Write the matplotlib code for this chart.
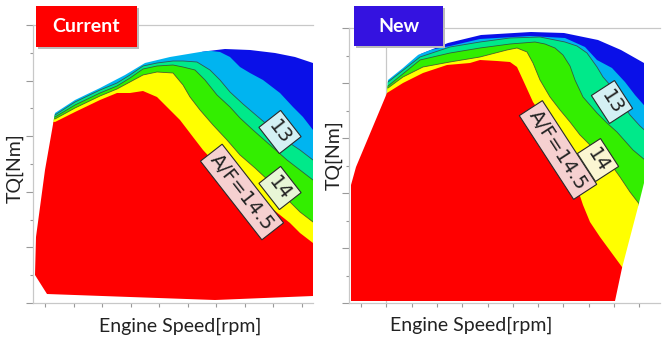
import matplotlib

matplotlib.use("Agg")
import matplotlib.pyplot as plt
from matplotlib.patches import Polygon, Rectangle
from matplotlib.ticker import MultipleLocator
import numpy as np

# ---------------- Current map (speed in rpm, torque in Nm) ----------------
cur_env_speed = [1100, 1500, 2000, 2500, 2900, 3400, 4000, 4500, 5000, 5500, 5900, 6260,
                 6260, 4300, 2600, 940, 700, 720, 900]
cur_env_tq = [190, 203, 215, 228, 240, 246, 251, 254, 253, 250, 246, 240,
              7, 3, 6, 9, 28, 66, 133]

cur_blue_speed = [600, 3900, 4060, 4400, 4600, 4800, 5000, 5260, 5600, 5860, 6060, 6260, 6400]
cur_blue_tq = [262, 262, 253, 251, 246, 236, 230, 223, 210, 196, 186, 173, 168]

cur_13_speed = [600, 1100, 1500, 2000, 2340, 2600, 2860, 3140, 3460, 3660, 3940, 4200, 4400,
                4600, 4860, 5140, 5400, 5700, 6000, 6260, 6400]
cur_13_tq = [192, 188, 201, 213, 220, 228, 237, 240, 242, 242, 241, 233, 223,
             211, 199, 187, 176, 163, 153, 143, 139]

cur_135_speed = [600, 1100, 1500, 2000, 2340, 2600, 2860, 3140, 3460, 3660, 3900, 4100, 4340,
                 4600, 4800, 5060, 5400, 5740, 6000, 6260, 6400]
cur_135_tq = [190, 186, 198, 210, 217, 225, 234, 237, 238, 236, 233, 223, 208,
              196, 185, 173, 158, 143, 133, 123, 119]

cur_14_speed = [600, 1100, 1500, 2000, 2340, 2600, 2860, 3140, 3460, 3660, 3800, 4000, 4260,
                4540, 4800, 5100, 5400, 5700, 6000, 6260, 6400]
cur_14_tq = [188, 184, 195, 207, 214, 221, 228, 231, 230, 218, 206, 193, 178,
             163, 148, 135, 121, 106, 91, 81, 77]

cur_145_speed = [600, 1100, 1500, 2000, 2340, 2600, 2860, 3140, 3340, 3600, 3860, 4060, 4300,
                 4600, 5000, 5400, 5800, 6000, 6260, 6400]
cur_145_tq = [185, 181, 191, 203, 210, 210, 212, 206, 196, 183, 166, 153, 140,
              125, 110, 96, 80, 70, 60, 53]

# ---------------- New map ----------------
new_env_speed = [1440, 1740, 2040, 2640, 3300, 4300, 4960, 5640, 6100, 6560,
                 6560, 6440, 6120, 5980, 700, 700, 800, 1420]
new_env_tq = [223, 235, 248, 260, 268, 271, 270, 263, 253, 240,
              120, 96, 35, 2, 2, 118, 136, 210]

new_blue_speed = [580, 2080, 2680, 3280, 4280, 4980, 5380, 5620, 5920, 6180, 6380, 6680]
new_blue_tq = [263, 251, 257, 264, 267, 265, 256, 243, 235, 221, 208, 191]

new_13_speed = [580, 1440, 2080, 2680, 3280, 3880, 4480, 4980, 5220, 5420, 5620, 5740, 5880,
                6080, 6280, 6480, 6680]
new_13_tq = [224, 221, 246, 256, 261, 265, 266, 261, 257, 250, 236, 226, 218,
             203, 188, 177, 168]

new_135_speed = [580, 1440, 2080, 2680, 3280, 3880, 4380, 4580, 4780, 4940, 5080, 5180, 5340,
                 5620, 5820, 6020, 6340, 6580, 6780]
new_135_tq = [222, 217, 243, 250, 255, 259, 261, 259, 255, 248, 237, 223, 206,
              190, 180, 171, 153, 143, 137]

new_14_speed = [580, 1440, 1740, 2140, 2680, 3280, 3820, 4020, 4220, 4340, 4480, 4680, 4880,
                5080, 5280, 5580, 5880, 6080, 6280, 6480, 6680]
new_14_tq = [220, 215, 226, 236, 241, 246, 253, 255, 251, 240, 223, 206, 193,
             181, 168, 153, 140, 126, 111, 98, 88]

new_145_speed = [580, 1420, 1740, 2140, 2620, 3080, 3280, 3620, 3880, 4020, 4140, 4340, 4540,
                 4780, 5040, 5240, 5340, 5480, 5680, 6120, 6680]
new_145_tq = [215, 210, 220, 230, 238, 240, 243, 242, 241, 236, 223, 201, 186,
              163, 138, 113, 98, 81, 66, 36, -7]

band_colors = ["#0A10E8", "#00B4F0", "#00E98A", "#33EE00", "#FFFF00", "#FF0000"]
line_color = "#3A3A3A"

plt.rcParams["font.family"] = ["Lato", "DejaVu Sans"]

fig = plt.figure(figsize=(6.62, 3.39), dpi=100)
ax_cur = fig.add_axes([33 / 662, 36 / 339, 280 / 662, 278 / 339])
ax_new = fig.add_axes([349 / 662, 36 / 339, 311 / 662, 275 / 339])


def draw_map(ax, env_x, env_y, bounds, labels):
    env = Polygon(np.column_stack([env_x, env_y]), closed=True, fill=False,
                  edgecolor="none", zorder=1)
    ax.add_patch(env)
    # each band lies between two boundaries; it runs a little under the next band
    # so no seams show, and only one colour meets the outer edge of the map
    x_lo, x_hi = 0, 8000
    uppers = [([x_lo, x_hi], [400, 400])] + bounds
    lowers = bounds + [([x_lo, x_hi], [-30, -30])]
    for i, ((ux, uy), (lx, ly)) in enumerate(zip(uppers, lowers)):
        drop = 2.5 if i < len(bounds) else 0
        pts = list(zip(ux, uy)) + [(x, y - drop) for x, y in zip(lx[::-1], ly[::-1])]
        band = Polygon(pts, closed=True, fc=band_colors[i], ec="none", zorder=2 + i)
        ax.add_patch(band)
        band.set_clip_path(env)
    # contour lines between bands
    for bx, by in bounds[1:4]:
        ln, = ax.plot(bx, by, color=line_color, lw=0.6, alpha=0.8, zorder=9)
        ln.set_clip_path(env)
    for (tx, ty, s, rot, fc) in labels:
        ax.text(tx, ty, s, rotation=rot, rotation_mode="anchor", ha="center", va="center",
                fontsize=14, family="DejaVu Sans", color="#222222", zorder=10,
                bbox=dict(boxstyle="square,pad=0.22", fc=fc, ec="#2A2A2A", lw=0.8))


draw_map(ax_cur, cur_env_speed, cur_env_tq,
         [(cur_blue_speed, cur_blue_tq), (cur_13_speed, cur_13_tq), (cur_135_speed, cur_135_tq),
          (cur_14_speed, cur_14_tq), (cur_145_speed, cur_145_tq)],
         [(4840, 111, "A/F=14.5", -52, "#F6D0D0"),
          (5600, 115, "14", -52, "#E8F6D6"),
          (5600, 171, "13", -52, "#D4F0F4")])

draw_map(ax_new, new_env_speed, new_env_tq,
         [(new_blue_speed, new_blue_tq), (new_13_speed, new_13_tq), (new_135_speed, new_135_tq),
          (new_14_speed, new_14_tq), (new_145_speed, new_145_tq)],
         [(4840, 153, "A/F=14.5", -57, "#F6D0D0"),
          (5640, 143, "14", -57, "#FBF6D2"),
          (5920, 201, "13", -57, "#D4F0F4")])

ax_new.axvline(1406, color="#C8C8C8", lw=0.9, zorder=0)

for ax, xmax, ymax, x0, xstep, ystep in [(ax_cur, 6260, 278, 900, 570, 27.8),
                                         (ax_new, 6880, 275, 900, 506, 27.5)]:
    ax.set_xlim(660, xmax)
    ax.set_ylim(0, ymax)
    ax.set_xticks(np.arange(x0, xmax, xstep))
    ax.yaxis.set_major_locator(MultipleLocator(ystep * 2))
    ax.yaxis.set_minor_locator(MultipleLocator(ystep))
    ax.tick_params(axis="both", which="both", labelleft=False, labelbottom=False,
                   color="#999999", direction="out")
    ax.tick_params(axis="x", length=3, width=0.8)
    ax.tick_params(axis="y", which="major", length=5, width=0.8)
    ax.tick_params(axis="y", which="minor", length=2, width=0.8)
    ax.spines["right"].set_visible(False)
    for side in ("top", "left", "bottom"):
        ax.spines[side].set_color("#C8C8C8")
        ax.spines[side].set_linewidth(0.9)

# axis titles, centred where the reference has them
for ax, xl, yl in [(ax_cur, (147 / 280, -0.083), (-0.064, 0.486)),
                   (ax_new, (122 / 311, -0.08), (-0.048, 0.538))]:
    ax.text(*xl, "Engine Speed[rpm]", transform=ax.transAxes, ha="center", va="center",
            fontsize=14, color="#222222")
    ax.text(*yl, "TQ[Nm]", transform=ax.transAxes, ha="center", va="center",
            rotation=90, fontsize=14, color="#222222")

# title boxes
for (x0, x1, y0, y1, fc, s) in [(36, 137, 6, 47, "#FF0000", "Current"),
                                (354, 443, 6, 46, "#3412E0", "New")]:
    fig.add_artist(Rectangle(((x0 + 2) / 662, 1 - (y1 + 2) / 339), (x1 - x0) / 662,
                             (y1 - y0) / 339, transform=fig.transFigure,
                             fc="#BBBBBB", ec="none", zorder=19))
    fig.add_artist(Rectangle((x0 / 662, 1 - y1 / 339), (x1 - x0) / 662, (y1 - y0) / 339,
                             transform=fig.transFigure, fc=fc, ec="none", zorder=20))
    fig.text((x0 + x1) / 2 / 662, 1 - (y0 + y1) / 2 / 339, s, ha="center", va="center",
             color="white", fontsize=14, fontweight="bold", zorder=21)

fig.savefig("out.png", dpi=100)
